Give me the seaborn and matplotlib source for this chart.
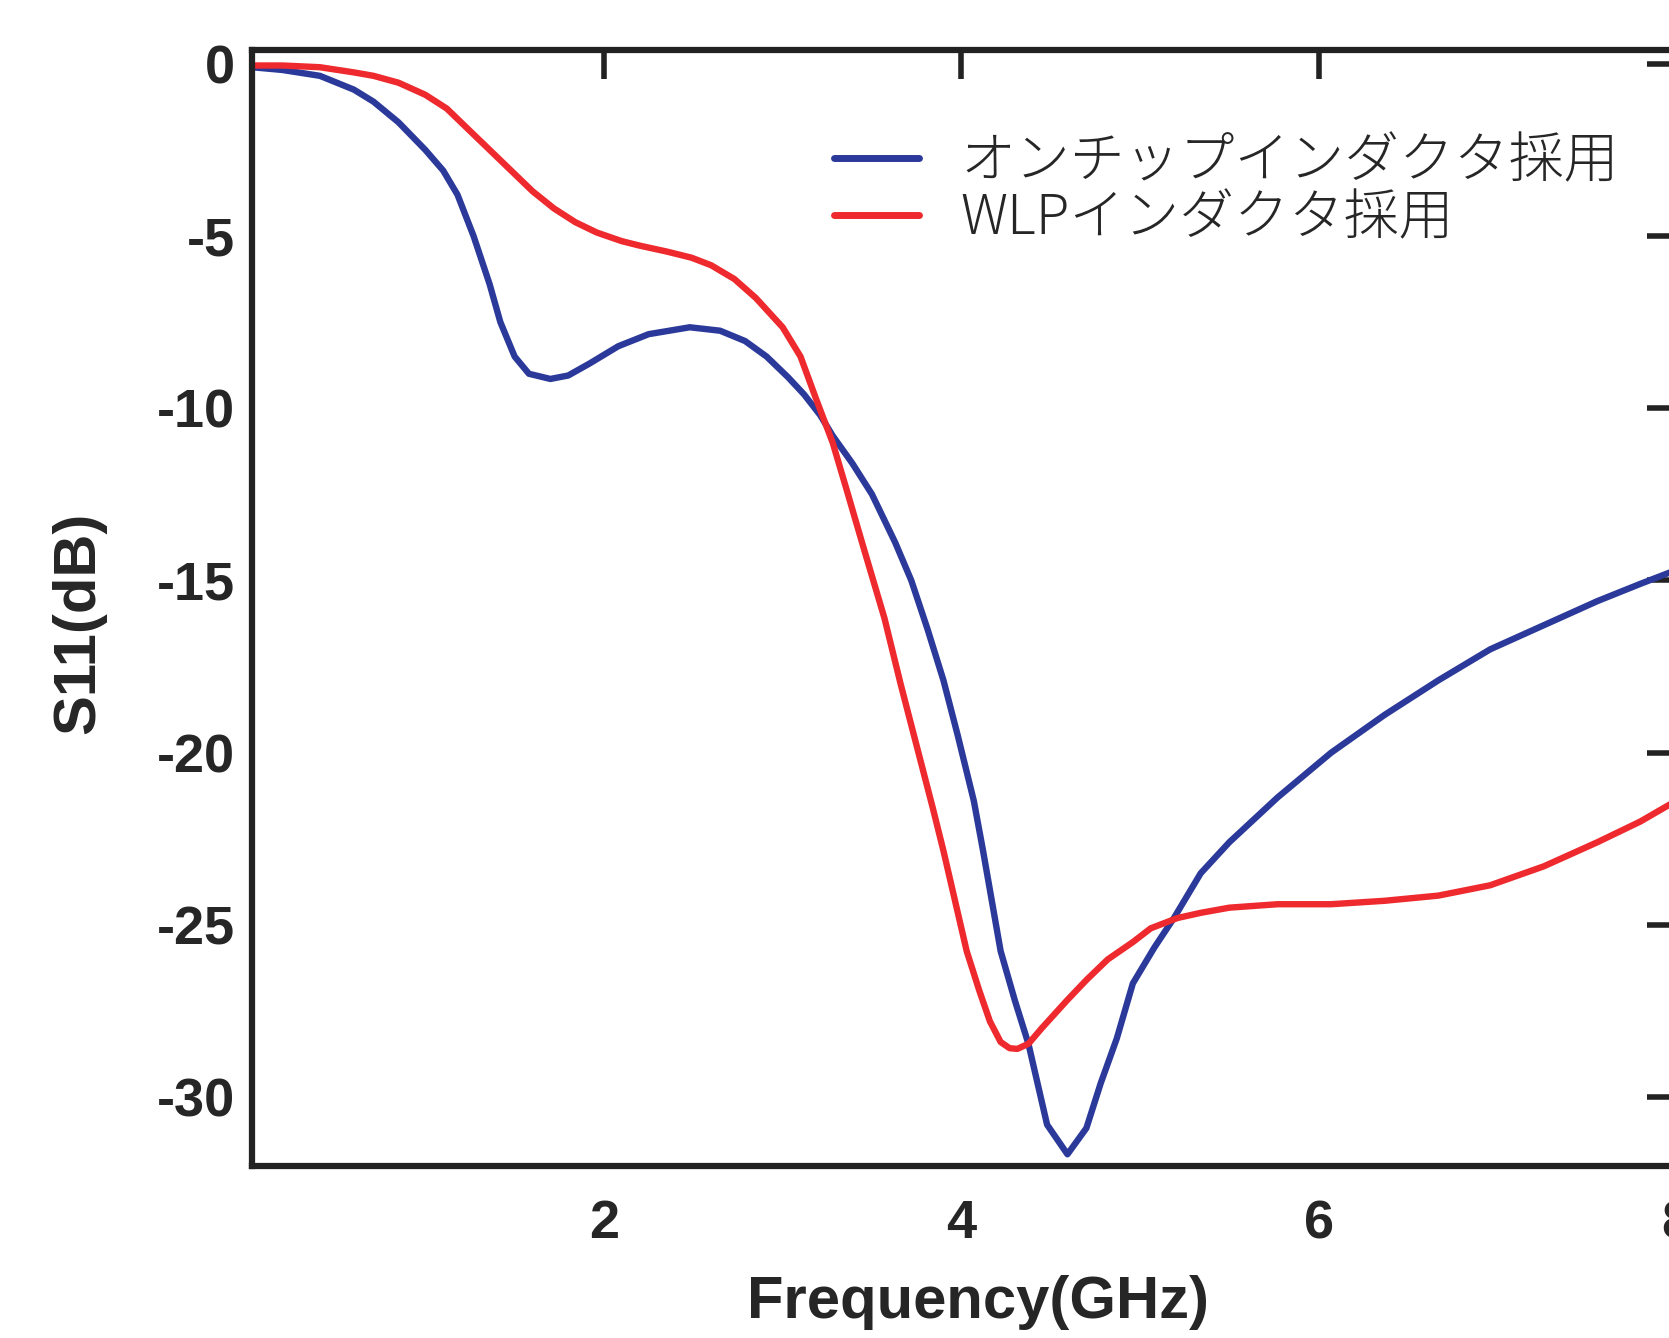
import numpy as np
import pandas as pd
import matplotlib
matplotlib.use("Agg")
import matplotlib.pyplot as plt
import seaborn as sns

# S11 (GHz, dB)
onchip_freq = [0.03, 0.2, 0.41, 0.6, 0.71, 0.85, 1.0, 1.1, 1.18, 1.27, 1.36, 1.42,
               1.5, 1.58, 1.70, 1.80, 1.92, 2.08, 2.25, 2.48, 2.65, 2.79, 2.91,
               3.03, 3.12, 3.21, 3.28, 3.39, 3.5, 3.63, 3.72, 3.81, 3.9, 3.98,
               4.07, 4.12, 4.22, 4.3, 4.376, 4.48, 4.594, 4.70, 4.78, 4.87, 4.96,
               5.08, 5.19, 5.34, 5.5, 5.77, 6.07, 6.37, 6.67, 6.96, 7.26, 7.56,
               7.8, 8.0]
onchip_s11 = [-0.1, -0.18, -0.35, -0.75, -1.1, -1.7, -2.5, -3.1, -3.8, -5.0, -6.4, -7.5,
              -8.5, -9.0, -9.15, -9.05, -8.7, -8.2, -7.85, -7.65, -7.75, -8.05, -8.5,
              -9.1, -9.6, -10.2, -10.8, -11.6, -12.5, -13.9, -15.0, -16.4, -17.9, -19.5,
              -21.4, -22.8, -25.76, -27.2, -28.46, -30.8, -31.66, -30.9, -29.6, -28.3, -26.7,
              -25.66, -24.8, -23.5, -22.6, -21.3, -20.0, -18.9, -17.9, -17.0, -16.3, -15.6,
              -15.1, -14.7]

wlp_freq = [0.03, 0.2, 0.41, 0.6, 0.71, 0.85, 1.0, 1.12, 1.24, 1.36, 1.48, 1.6,
            1.72, 1.84, 1.96, 2.1, 2.2, 2.35, 2.49, 2.6, 2.73, 2.85, 3.0, 3.1,
            3.19, 3.28, 3.36, 3.45, 3.57, 3.66, 3.75, 3.84, 3.90, 4.03, 4.1,
            4.16, 4.22, 4.27, 4.314, 4.376, 4.45, 4.59, 4.7, 4.82, 4.96, 5.06, 5.21,
            5.34, 5.5, 5.77, 6.07, 6.37, 6.67, 6.96, 7.26, 7.56, 7.8, 8.0]
wlp_s11 = [-0.05, -0.05, -0.1, -0.25, -0.35, -0.55, -0.9, -1.3, -1.9, -2.5, -3.1, -3.7,
           -4.2, -4.6, -4.9, -5.15, -5.28, -5.45, -5.63, -5.85, -6.25, -6.8, -7.65, -8.5,
           -9.77, -11.0, -12.4, -14.0, -16.1, -18.0, -19.8, -21.6, -22.85, -25.76, -26.9,
           -27.8, -28.4, -28.58, -28.6, -28.45, -28.0, -27.2, -26.6, -26.0, -25.5, -25.1, -24.8,
           -24.65, -24.5, -24.4, -24.4, -24.3, -24.15, -23.85, -23.3, -22.6, -22.0, -21.4]

labels = ["オンチップインダクタ採用", "WLPインダクタ採用"]
colors = ["#2b3a9a", "#ee2a2e"]

sns.set_style("white")
plt.rcParams["font.family"] = ["Liberation Sans", "DejaVu Sans"]

fig = plt.figure(figsize=(16.69, 13.38), dpi=100)
ax = fig.add_axes([252 / 1669, 172 / 1338, 1424 / 1669, 1116 / 1338])

sns.lineplot(x=onchip_freq, y=onchip_s11, ax=ax, color=colors[0], lw=4.6,
             label=labels[0], estimator=None, sort=False,
             solid_joinstyle="round", solid_capstyle="round")
sns.lineplot(x=wlp_freq, y=wlp_s11, ax=ax, color=colors[1], lw=4.6,
             label=labels[1], estimator=None, sort=False,
             solid_joinstyle="round", solid_capstyle="round")

ax.set_xlim(0.03, 8)
ax.set_ylim(-32, 0.4)
ax.set_xticks([2, 4, 6, 8])
ax.set_yticks([0, -5, -10, -15, -20, -25, -30])
ax.set_yticklabels(["0", "-5", "-10", "-15", "-20", "-25", "-30"])

for s in ax.spines.values():
    s.set_linewidth(4.5)
    s.set_color("#222222")
ax.tick_params(direction="in", length=21, width=4, color="#222222",
               top=True, right=True, labelsize=39)
ax.tick_params(axis="x", pad=24)
ax.tick_params(axis="y", pad=12)
for t in ax.get_xticklabels() + ax.get_yticklabels():
    t.set_fontweight("bold")

ax.set_xlabel("Frequency(GHz)", fontsize=43, fontweight="bold")
ax.set_ylabel("S11(dB)", fontsize=43, fontweight="bold")
ax.xaxis.set_label_coords(0.51, -0.098)
ax.yaxis.set_label_coords(-0.102, 0.487)

leg = ax.legend(loc="upper left", bbox_to_anchor=(0.409, 0.925), frameon=False,
                borderpad=0, borderaxespad=0, handlelength=1.55, handletextpad=0.75,
                labelspacing=0.0, prop={"family": ["Noto Sans CJK JP"], "size": 39.5,
                                        "weight": "light"})
for line in leg.get_lines():
    line.set_linewidth(5)

fig.savefig("out.png", dpi=100)
